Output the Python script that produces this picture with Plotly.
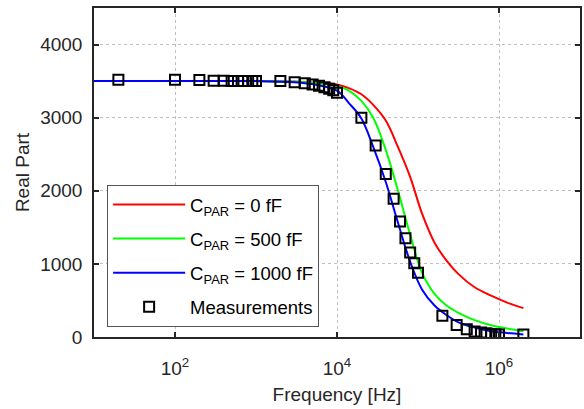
import plotly.graph_objects as go

# Measurement data
meas_freq = [20, 100, 200, 300, 400, 500, 600, 700, 800, 900, 1000, 2000, 3000, 4000, 5000,
             6000, 7000, 8000, 9000, 10000, 20000, 30000, 40000, 50000, 60000, 70000, 80000,
             90000, 100000, 200000, 300000, 400000, 500000, 600000, 700000, 800000, 900000,
             1000000, 2000000]
meas_real = [3520, 3520, 3515, 3505, 3505, 3500, 3500, 3500, 3500, 3500, 3500, 3500, 3485, 3470, 3455,
             3435, 3415, 3395, 3375, 3340, 3000, 2620, 2230, 1890, 1580, 1350, 1155,
             1010, 880, 290, 165, 105, 75, 60, 50, 42, 38,
             34, 35]

# Model curves
curve_freq = [10, 100, 1000, 3000, 5500, 10000, 14000, 20000, 28000, 40000, 56000, 80000,
              112000, 160000, 225000, 316000, 500000, 800000, 1260000, 2000000]
real_c0 = [3500, 3500, 3500, 3495, 3478, 3455, 3405, 3320, 3175, 2960, 2610, 2190,
           1690, 1290, 1045, 860, 680, 565, 470, 395]
real_c500 = [3500, 3500, 3500, 3490, 3470, 3435, 3370, 3230, 3000, 2560, 2020, 1400,
             880, 590, 430, 330, 230, 160, 115, 80]
real_c1000 = [3500, 3500, 3500, 3485, 3450, 3370, 3200, 2990, 2600, 2120, 1580, 1030,
              650, 430, 300, 200, 130, 80, 55, 35]

x_tickvals = [1e2, 1e4, 1e6]
x_ticktext = ["10<sup>2</sup>", "10<sup>4</sup>", "10<sup>6</sup>"]
y_tickvals = [0, 1000, 2000, 3000, 4000]

FONT = "Liberation Sans, Arial, sans-serif"
AX = "#262626"

fig = go.Figure()
fig.add_trace(go.Scatter(x=curve_freq, y=real_c0, mode="lines", line=dict(color="#ff0000", width=2, shape="spline"),
                         name="C<sub>PAR</sub> = 0 fF", legendgroup="a"))
fig.add_trace(go.Scatter(x=curve_freq, y=real_c500, mode="lines", line=dict(color="#00ff00", width=2, shape="spline"),
                         name="C<sub>PAR</sub> = 500 fF", legendgroup="b"))
fig.add_trace(go.Scatter(x=curve_freq, y=real_c1000, mode="lines", line=dict(color="#0000ff", width=2, shape="spline"),
                         name="C<sub>PAR</sub> = 1000 fF", legendgroup="c"))
fig.add_trace(go.Scatter(x=meas_freq, y=meas_real, mode="markers",
                         marker=dict(symbol="square-open", size=10, color="black", line=dict(width=2, color="black")),
                         name="Measurements", legendgroup="d"))

fig.update_layout(
    width=584, height=409,
    margin=dict(l=94, r=4, t=8, b=72),
    paper_bgcolor="white", plot_bgcolor="white",
    font=dict(family=FONT, size=18, color=AX),
    showlegend=True,
    legend=dict(x=0.027, y=0.462, xanchor="left", yanchor="top",
                bgcolor="white", bordercolor="#555555", borderwidth=1,
                font=dict(family=FONT, size=18.5, color="black"), itemwidth=72,
                tracegroupgap=7),
)
fig.update_xaxes(type="log", range=[1, 7], tickvals=x_tickvals, ticktext=x_ticktext,
                 showgrid=True, gridcolor="#c0c0c0", griddash="dot", gridwidth=1,
                 showline=True, linecolor=AX, linewidth=1.5, mirror="ticks",
                 ticks="inside", ticklen=5, tickcolor=AX, tickwidth=1.5,
                 zeroline=False, automargin=False, ticklabelstandoff=13,
                 tickfont=dict(size=19),
                 title=dict(text="Frequency [Hz]", font=dict(size=19, family=FONT, color=AX), standoff=10))
fig.update_yaxes(range=[0, 4500], tickvals=y_tickvals,
                 showgrid=True, gridcolor="#c0c0c0", griddash="dot", gridwidth=1,
                 showline=True, linecolor=AX, linewidth=1.5, mirror="ticks",
                 ticks="inside", ticklen=5, tickcolor=AX, tickwidth=1.5,
                 zeroline=False, automargin=False, ticklabelstandoff=6,
                 tickfont=dict(size=19),
                 title=dict(text="Real Part", font=dict(size=19, family=FONT, color=AX), standoff=6))

fig.write_html("out.html", config={"displayModeBar": False},
               post_script="document.body.style.margin='0';document.body.style.overflow='hidden';")
